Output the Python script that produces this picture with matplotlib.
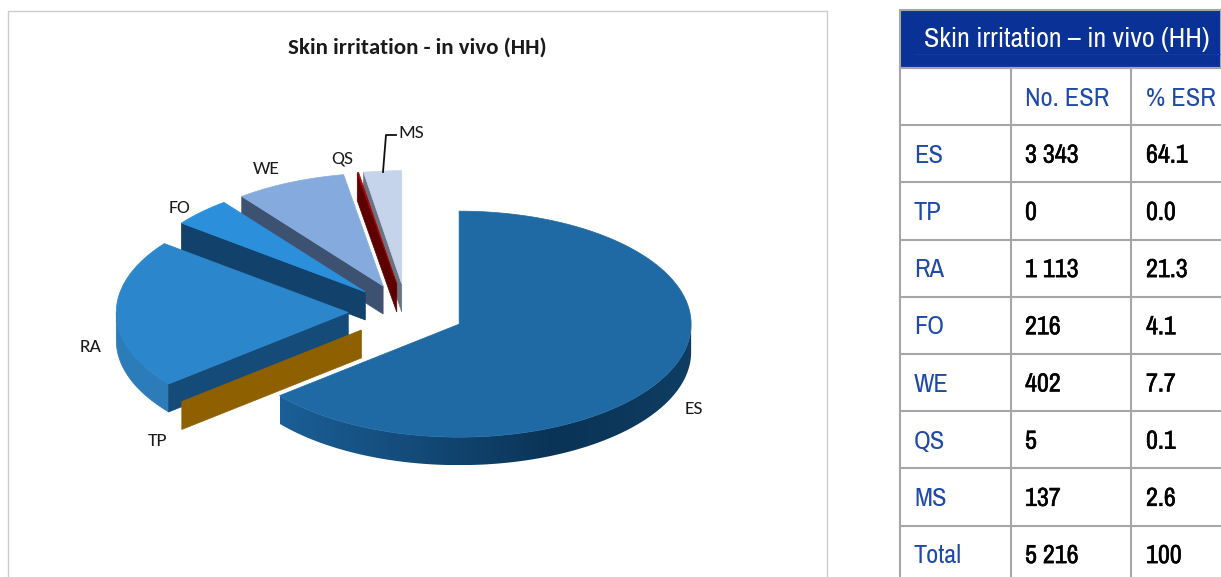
import numpy as np
import matplotlib
matplotlib.use('Agg')
import matplotlib.pyplot as plt
import matplotlib.patheffects as pe
from matplotlib.colors import LinearSegmentedColormap
from matplotlib.patches import Polygon

labels = ['ES', 'TP', 'RA', 'FO', 'WE', 'QS', 'MS']
noEsr = [3343, 0, 1113, 216, 402, 5, 137]
noEsrText = ['3 343', '0', '1 113', '216', '402', '5', '137']
pctEsrText = ['64.1', '0.0', '21.3', '4.1', '7.7', '0.1', '2.6']
totalRow = ['Total', '5 216', '100']
tableTitle = 'Skin irritation – in vivo (HH)'
chartTitle = 'Skin irritation - in vivo (HH)'
colHeads = ['No. ESR', '% ESR']

#colours of each slice: top face, cut wall, rim
topColors = ['#1f6aa5', '#8f6000', '#2b86cc', '#2b8fdc', '#85abde', '#b00000', '#c5d3eb']
cutColors = ['#134a78', '#8f6000', '#144b78', '#12416b', '#3d5270', '#5c0000', '#6b7280']
rimColors = ['#1f6aa5', '#8f6000', '#2b7cb9', '#2b8fdc', '#85abde', '#b00000', '#c5d3eb']
esRim = LinearSegmentedColormap.from_list('esRim', ['#1b5f96', '#134a78', '#0a3356', '#0f3d63'])

#pie geometry in pixels
centerX, centerY = 406.5, 312
radiusX, radiusY = 232, 113
depth = 28
explode = 0.251

fig = plt.figure(figsize=(12.21, 5.77), dpi=100)
ax = fig.add_axes([0, 0, 1, 1])
ax.axis('off')

def arcPoints(apex, start, end):
    #points on the rim, angles clockwise from the top
    angles = np.radians(np.linspace(start, end, max(int(end - start) * 2, 2)))
    return np.column_stack((apex[0] + radiusX * np.sin(angles), apex[1] - radiusY * np.cos(angles)))

def drawRim(apex, start, end, i):
    #only the front half of the rim can be seen
    start = max(start, 90)
    end = min(end, 270)
    if end <= start:
        return
    arc = arcPoints(apex, start, end)
    shape = np.vstack((arc, arc[::-1] + [0, depth]))
    if i == 0: #the big slice gets a dark gradient running to the right
        patch = Polygon(shape, facecolor='none', edgecolor='none')
        ax.add_patch(patch)
        left, right = shape[:, 0].min(), shape[:, 0].max()
        shade = np.linspace(0, 1, 256).reshape(1, -1)
        img = ax.imshow(shade, cmap=esRim, extent=(left, right, shape[:, 1].max(), shape[:, 1].min()), aspect='auto')
        img.set_clip_path(patch)
    else:
        ax.add_patch(Polygon(shape, facecolor=rimColors[i], edgecolor=rimColors[i], lw=0.5))

def drawSlice(i, start, end):
    mid = np.radians((start + end) / 2)
    apex = (centerX + explode * radiusX * np.sin(mid), centerY - explode * radiusY * np.cos(mid))
    drawRim(apex, start, end, i)
    #the cut wall at the start of the slice faces the viewer on the left half
    if 180 < start < 360:
        edge = arcPoints(apex, start, start + 1)[0]
        wall = [apex, edge, edge + [0, depth], (apex[0], apex[1] + depth)]
        ax.add_patch(Polygon(wall, facecolor=cutColors[i], edgecolor=cutColors[i], lw=0.5))
    if end > start:
        top = np.vstack(([apex], arcPoints(apex, start, end)))
        ax.add_patch(Polygon(top, facecolor=topColors[i], edgecolor=topColors[i], lw=0.5))

#chart frame, no bottom line as the picture is cut there
frameColor = '#cccccc'
ax.plot([8, 8, 827, 827], [577, 11, 11, 577], color=frameColor, lw=1.0)

bounds = np.concatenate(([0], np.cumsum(noEsr))) / sum(noEsr) * 360
for i in reversed(range(len(labels))): #back slices first
    drawSlice(i, bounds[i], bounds[i + 1])

chartFont = ['Carlito', 'Lato', 'DejaVu Sans']
ax.text(417, 47.5, chartTitle, family=chartFont, fontsize=16.5, fontweight='bold', ha='center', va='center', color='#1a1a1a')
labelPos = {'ES': (694, 408), 'TP': (158, 440), 'RA': (91, 346), 'FO': (179, 207),
            'WE': (266, 168), 'QS': (342, 157), 'MS': (411, 132)}
for name in labels:
    ax.text(labelPos[name][0], labelPos[name][1] + 1, name, family=chartFont, fontsize=14, ha='center', va='center', color='#1a1a1a')
ax.plot([383, 386, 396], [172, 135, 135], color='#111111', lw=1.3)

#table on the right, cut by the picture edge
tableFont = ['Archivo Narrow', 'Roboto Condensed', 'Liberation Sans']
blue = '#1f4aa8'
lineColor = '#a6a6a6'
thicker = [pe.withStroke(linewidth=0.35, foreground='black')] #the narrow font has no bold cut here
rowLines = [68 + 57.2 * n for n in range(10)]
colLines = [900, 1011, 1131]
ax.add_patch(Polygon([(900, 10), (1221, 10), (1221, 68), (900, 68)], facecolor='#0a3296', edgecolor=lineColor, lw=1.5))
ax.plot([915, 1221], [54, 54], color='#1c40a0', lw=0.5)
for y in rowLines:
    ax.plot([900, 1221], [y, y], color=lineColor, lw=1.5)
for x in colLines:
    ax.plot([x, x], [68, 577], color=lineColor, lw=1.5)
ax.text(1067, 40, tableTitle, family=tableFont, fontsize=20.2, color='white', ha='center', va='center')

colX = [915, 1025, 1146]
rowMid = [r + 30 for r in rowLines]
for x, head in zip(colX[1:], colHeads):
    ax.text(x, rowMid[0], head, family=tableFont, fontsize=19, color=blue, va='center')
rows = list(zip(labels, noEsrText, pctEsrText)) + [tuple(totalRow)]
for n, row in enumerate(rows):
    y = rowMid[n + 1]
    ax.text(colX[0] - 1, y, row[0], family=tableFont, fontsize=19, color=blue, va='center')
    ax.text(colX[1], y, row[1], family=tableFont, fontsize=18.8, color='black', va='center', path_effects=thicker)
    ax.text(colX[2], y, row[2], family=tableFont, fontsize=18.8, color='black', va='center', path_effects=thicker)

ax.set_xlim(0, 1221)
ax.set_ylim(577, 0)
fig.savefig('out.png', dpi=100)
